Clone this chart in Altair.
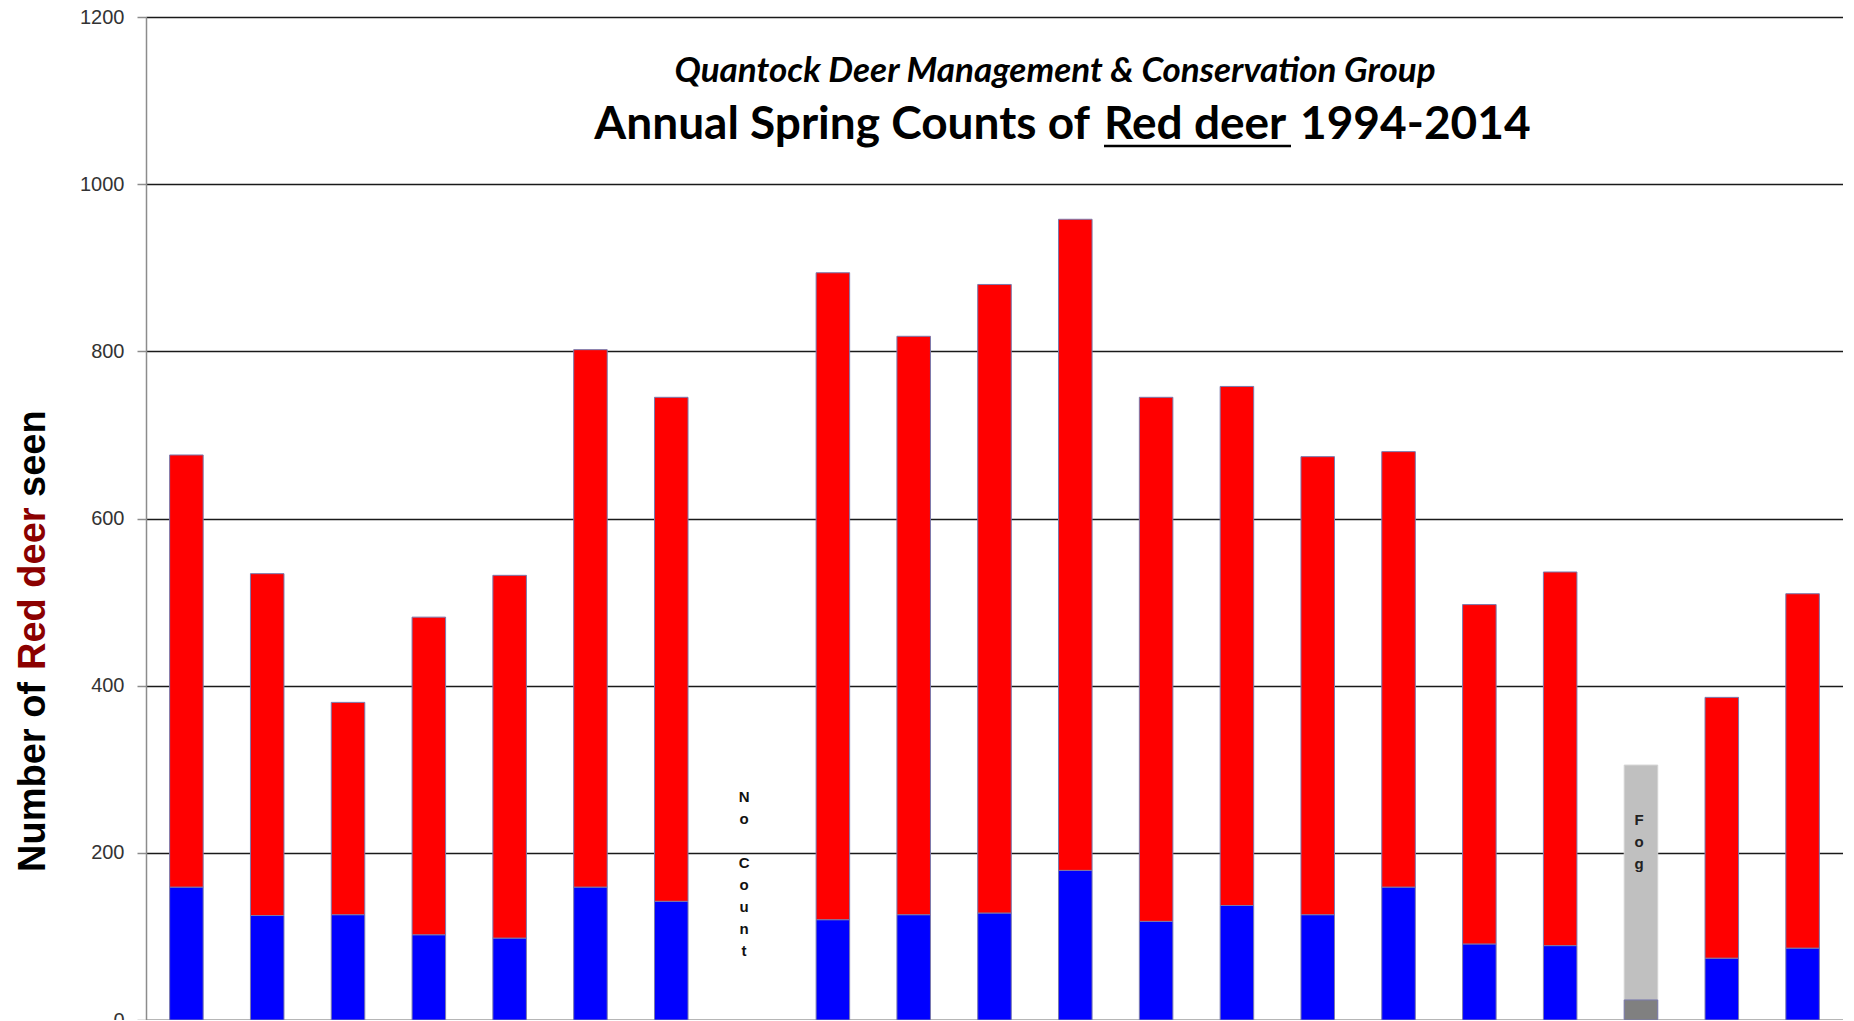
import altair as alt
import pandas as pd

# ---- data ----
years = [str(y) for y in range(1994, 2015)]
lower_counts = [159, 125, 126, 102, 98, 159, 142, None, 120, 126, 128, 179,
                118, 137, 126, 159, 91, 89, None, 74, 86]
total_counts = [676, 534, 380, 482, 532, 802, 745, None, 894, 818, 880, 958,
                745, 758, 674, 680, 497, 536, None, 386, 510]
fog_year = ["2012"]
fog_total = [305]
fog_lower = [24]
no_count_year = ["2001"]
y_ticks = [0, 200, 400, 600, 800, 1000, 1200]

df = pd.DataFrame({"year": years, "lower": lower_counts, "total": total_counts})
df = df.dropna()
fog_df = pd.DataFrame({"year": fog_year, "top": fog_total, "low": fog_lower})
nc_df = pd.DataFrame({"year": no_count_year})
one = pd.DataFrame({"k": [0]})

PLOT_W = 1697
PLOT_H = 1003

x_enc = alt.X("year:N", scale=alt.Scale(domain=years, paddingInner=0.585, paddingOuter=0.2925),
              axis=alt.Axis(labels=False, ticks=False, title=None, grid=False,
                            domainColor="#8c8c8c", domainWidth=1.5))
y_axis = alt.Axis(values=y_ticks, format="d", grid=True, gridColor="#1a1a1a", gridWidth=1.5,
                  domainColor="#8c8c8c", domainWidth=1.5, tickColor="#8c8c8c", tickSize=9,
                  tickWidth=1.5, labelFont="Liberation Sans", labelFontSize=20,
                  labelColor="#333333", labelPadding=13, title=None)
y_scale = alt.Scale(domain=[0, 1200], nice=False, zero=True)

stroke = "#7a7aad"

blue = alt.Chart(df).mark_bar(color="#0000ff", stroke=stroke, strokeWidth=1).encode(
    x=x_enc, y=alt.Y("lower:Q", scale=y_scale, axis=y_axis))
red = alt.Chart(df).mark_bar(color="#ff0000", stroke=stroke, strokeWidth=1).encode(
    x=x_enc, y=alt.Y("lower:Q", scale=y_scale, axis=y_axis), y2="total:Q")
fog_bar = alt.Chart(fog_df).mark_bar(color="#c0c0c0", stroke="#d4d4d4", strokeWidth=1).encode(
    x=x_enc, y=alt.Y("top:Q", scale=y_scale, axis=y_axis))
fog_low = alt.Chart(fog_df).mark_bar(color="#808080", stroke=stroke, strokeWidth=1).encode(
    x=x_enc, y=alt.Y("low:Q", scale=y_scale, axis=y_axis))

vtext = dict(font="Liberation Sans", fontWeight="bold", fontSize=15, lineBreak="\n",
             lineHeight=22, align="center", baseline="alphabetic")
nc_text1 = alt.Chart(nc_df).mark_text(color="#111111", dx=-8, **vtext).encode(
    x=x_enc, y=alt.value(785), text=alt.value("N\no"))
nc_text2 = alt.Chart(nc_df).mark_text(color="#111111", dx=-8, **vtext).encode(
    x=x_enc, y=alt.value(851), text=alt.value("C\no\nu\nn\nt"))
fog_text = alt.Chart(fog_df).mark_text(color="#222222", dx=-2, **vtext).encode(
    x=x_enc, y=alt.value(808), text=alt.value("F\no\ng"))

subtitle = alt.Chart(one).mark_text(font="Lato", fontStyle="italic", fontWeight="bold",
                                     fontSize=35, align="center", baseline="alphabetic",
                                     color="#000000").encode(
    x=alt.value(909), y=alt.value(65),
    text=alt.value("Quantock Deer Management & Conservation Group"))

title_common = dict(font="Lato", fontWeight="bold", fontSize=46, baseline="alphabetic",
                    color="#000000")
title1 = alt.Chart(one).mark_text(align="right", **title_common).encode(
    x=alt.value(944), y=alt.value(122), text=alt.value("Annual Spring Counts of"))
title2 = alt.Chart(one).mark_text(align="left", **title_common).encode(
    x=alt.value(958), y=alt.value(122), text=alt.value("Red deer"))
title3 = alt.Chart(one).mark_text(align="left", **title_common).encode(
    x=alt.value(1154), y=alt.value(122), text=alt.value("1994-2014"))
underline = alt.Chart(one).mark_rule(color="#000000", strokeWidth=2.5).encode(
    x=alt.value(958), x2=alt.value(1145), y=alt.value(129))

ytitle_common = dict(font="Liberation Sans", fontWeight="bold", fontSize=38, angle=270,
                     align="left", baseline="alphabetic")
yt1 = alt.Chart(one).mark_text(color="#000000", **ytitle_common).encode(
    x=alt.value(-101), y=alt.value(855), text=alt.value("Number of"))
yt2 = alt.Chart(one).mark_text(color="#8b0000", **ytitle_common).encode(
    x=alt.value(-101), y=alt.value(653), text=alt.value("Red deer"))
yt3 = alt.Chart(one).mark_text(color="#000000", **ytitle_common).encode(
    x=alt.value(-101), y=alt.value(480), text=alt.value("seen"))

chart = alt.layer(
    blue, red, fog_bar, fog_low, nc_text1, nc_text2, fog_text,
    subtitle, title1, title2, title3, underline, yt1, yt2, yt3
).properties(
    width=PLOT_W, height=PLOT_H,
    autosize=alt.AutoSizeParams(type="none"),
    padding={"left": 138, "top": 9, "right": 0, "bottom": 0},
    background="#ffffff",
).configure_view(strokeWidth=0)

chart.save("out.html", embed_options={"renderer": "svg", "actions": False})
